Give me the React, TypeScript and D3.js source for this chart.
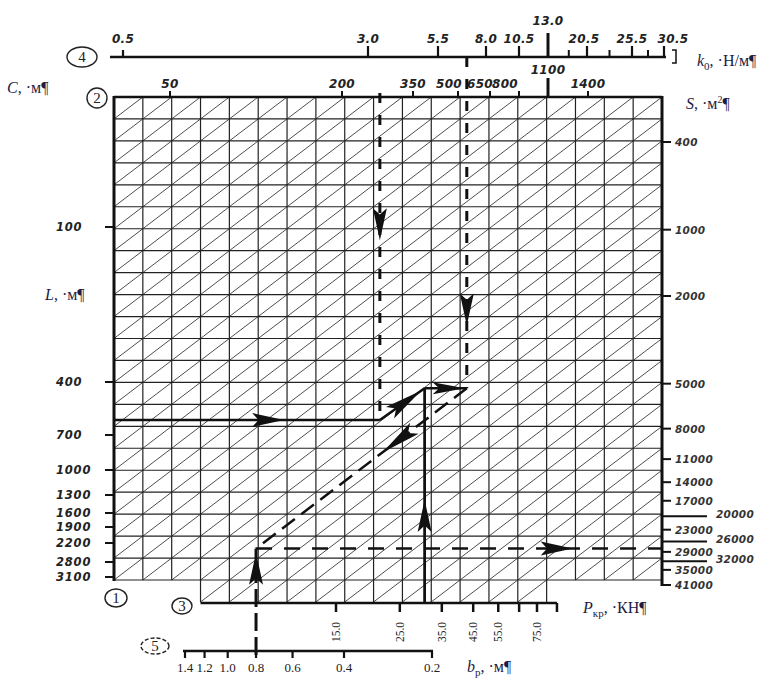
import React from "react";
import * as d3 from "d3";

// шкалы номограммы (подписи делений)
const kTicks = [0.5, 3.0, 5.5, 8.0, 10.5, 13.0, 20.5, 25.5, 30.5];
const kMinor = [17.0, 23.0, 28.0];
const cTicks = [50, 200, 350, 500, 650, 800, 1100, 1400];
const lTicks = [100, 400, 700, 1000, 1300, 1600, 1900, 2200, 2800, 3100];
const sTicks = [400, 1000, 2000, 5000, 8000, 11000, 14000, 17000, 23000, 29000, 35000, 41000];
const sLong = [20000, 26000, 32000];
const pTicks = [15, 25, 35, 45, 55, 75];
const pMinor = [65, 88];
const bTicks = [1.4, 1.2, 1.0, 0.8, 0.6, 0.4, 0.2];

// ключ решения (значения, через которые идут линии)
const keyL = 615;
const keyC = 280;
const keyK = 7.0;
const keyP = 30.5;
const keyS1 = 5250;
const keyS2 = 28000;
const keyB = 0.8;

const W = 778;
const H = 683;
const NCOL = 19;
const NROW = 22;

const col = d3.scaleLinear().domain([0, NCOL]).range([114, 662]);
const row = d3.scaleLinear().domain([0, NROW]).range([97, 580]);
const kX = d3.scaleLinear().domain(kTicks).range([123, 368, 438, 486, 519, 548, 587, 632, 664]);
const cX = d3.scaleLinear().domain(cTicks).range([170, 342, 413, 458, 490, 519, 548, 588]);
const lY = d3.scaleLinear().domain(lTicks).range([227, 382, 435, 470, 495, 513, 527, 543, 562, 577]);
const sY = d3.scaleLog().domain([400, 41000]).range([142, 585]);
const pX = d3.scaleLog().domain([15, 75]).range([336, 537]);
const bX = d3.scaleLog().domain([1.4, 0.2]).range([185, 432]);

const K_AXIS_Y = 57;
const P_AXIS_Y = 603;
const B_AXIS_Y = 651;

const tickFont = "'DejaVu Sans', sans-serif";
const serif = "'Liberation Serif', 'Times New Roman', serif";
const ink = "#111";
const navy = "#1c1c44";

// подписи, сдвинутые из-за тесноты (как в оригинале)
const cShift = (v: number) => (v === 500 ? -9 : v === 650 ? -10 : v === 800 ? -14 : 0);
const kShift = (v: number) => (v === 30.5 ? 9 : v === 20.5 ? -3 : 0);

type Pt = [number, number];

function Arrow({ a, b, t, len = 32, w = 7 }: { a: Pt; b: Pt; t: number; len?: number; w?: number }) {
  const dx = b[0] - a[0];
  const dy = b[1] - a[1];
  const d = Math.hypot(dx, dy);
  const ux = dx / d;
  const uy = dy / d;
  const tip: Pt = [a[0] + dx * t, a[1] + dy * t];
  const bx = tip[0] - ux * len;
  const by = tip[1] - uy * len;
  const pts = [
    tip,
    [bx - uy * w, by + ux * w],
    [tip[0] - ux * len * 0.8, tip[1] - uy * len * 0.8],
    [bx + uy * w, by - ux * w],
  ];
  return <polygon points={pts.map((p) => p.join(",")).join(" ")} fill={ink} />;
}

function Ring({ x, y, rx, ry, n, dashed = false }: { x: number; y: number; rx: number; ry: number; n: string; dashed?: boolean }) {
  return (
    <g>
      <ellipse cx={x} cy={y} rx={rx} ry={ry} fill="none" stroke="#222" strokeWidth={1.4}
        strokeDasharray={dashed ? "4 2" : undefined} />
      <text x={x} y={y + 5} textAnchor="middle" fontFamily={serif} fontSize={15} fill="#222">{n}</text>
    </g>
  );
}

export default function App() {
  const f1 = d3.format(".1f");

  // сетка
  const vLines = d3.range(0, NCOL + 1).map((i) => {
    const ext = i >= 3 && i <= 15;
    return <line key={"v" + i} x1={col(i)} x2={col(i)} y1={row(0)} y2={ext ? row(23) : row(NROW)} stroke="#222" strokeWidth={1.2} />;
  });
  const hLines = d3.range(1, NROW + 1).map((j) => (
    <line key={"h" + j} x1={col(0)} x2={col(NCOL)} y1={row(j)} y2={row(j)} stroke="#222" strokeWidth={1.2} />
  ));
  const diag: JSX.Element[] = [];
  for (let i = 0; i < NCOL; i++) {
    for (let j = 0; j < NROW; j++) {
      diag.push(<line key={`d${i}-${j}`} x1={col(i)} y1={row(j + 1)} x2={col(i + 1)} y2={row(j)} stroke="#3a3a3a" strokeWidth={0.9} />);
    }
  }
  for (let i = 3; i < 15; i++) {
    diag.push(<line key={`e${i}`} x1={col(i)} y1={row(23)} x2={col(i + 1)} y2={row(22)} stroke="#3a3a3a" strokeWidth={0.9} />);
  }

  // точки пути решения
  const A: Pt = [col(0), lY(keyL)];
  const B: Pt = [cX(keyC), lY(keyL)];
  const Cp: Pt = [pX(keyP), sY(keyS1)];
  const D: Pt = [kX(keyK), sY(keyS1)];
  const E: Pt = [bX(keyB), sY(keyS2)];
  const F: Pt = [col(NCOL), sY(keyS2)];
  const cTop: Pt = [cX(keyC), row(0) - 4];
  const kTop: Pt = [kX(keyK), K_AXIS_Y];
  const pBot: Pt = [pX(keyP), P_AXIS_Y];
  const bBot: Pt = [bX(keyB), B_AXIS_Y + 4];

  const seg = (a: Pt, b: Pt, w: number, dash?: string, key?: string) => (
    <line key={key} x1={a[0]} y1={a[1]} x2={b[0]} y2={b[1]} stroke={ink} strokeWidth={w} strokeDasharray={dash} />
  );

  return (
    <svg width={W} height={H} style={{ position: "absolute", left: 0, top: 0, background: "#fff" }}>
      <rect width={W} height={H} fill="#fff" />

      {/* поле сетки */}
      <g>{diag}</g>
      <g>{hLines}</g>
      <g>{vLines}</g>
      <line x1={col(0)} x2={col(NCOL)} y1={row(0)} y2={row(0)} stroke={ink} strokeWidth={2.5} />
      <line x1={col(0)} x2={col(0)} y1={row(0) - 1} y2={row(NROW) + 1} stroke={ink} strokeWidth={3} />
      <line x1={col(NCOL)} x2={col(NCOL)} y1={row(0) - 1} y2={sY(41000) + 1} stroke={ink} strokeWidth={3} />

      {/* шкала 4: k0 */}
      <line x1={110} x2={kX(30.5) + 2} y1={K_AXIS_Y} y2={K_AXIS_Y} stroke={ink} strokeWidth={2.5} />
      {kTicks.map((v) => (
        <g key={"k" + v}>
          <line x1={kX(v)} x2={kX(v)} y1={K_AXIS_Y} y2={K_AXIS_Y - (v === 13 ? 24 : v === 0.5 ? 7 : 11)} stroke={ink} strokeWidth={v === 13 ? 3 : 2.2} />
          <text x={kX(v) + kShift(v)} y={v === 13 ? 25 : 43} textAnchor="middle" fontFamily={tickFont} fontWeight="bold"
            fontStyle="italic" fontSize={12} letterSpacing={0.3} fill="#222">{f1(v)}</text>
        </g>
      ))}
      {kMinor.map((v) => (
        <line key={"km" + v} x1={kX(v)} x2={kX(v)} y1={K_AXIS_Y} y2={K_AXIS_Y - 7} stroke={ink} strokeWidth={2} />
      ))}
      <path d={`M${kX(30.5) + 8},50 H${kX(30.5) + 12} V63 H${kX(30.5) + 8}`} fill="none" stroke={ink} strokeWidth={1.5} />
      <Ring x={82} y={K_AXIS_Y} rx={15} ry={10} n="4" />
      <text x={697} y={66} fontFamily={serif} fontSize={16} fill={navy}>
        <tspan fontStyle="italic">k</tspan>
        <tspan fontSize={11} dy={4}>0</tspan>
        <tspan dy={-4}>, ·Н/м¶</tspan>
      </text>

      {/* шкала 2: C (верх) */}
      {cTicks.map((v) => (
        <g key={"c" + v}>
          <line x1={cX(v)} x2={cX(v)} y1={row(0)} y2={row(0) - (v === 1100 ? 19 : 6)} stroke={ink} strokeWidth={v === 1100 ? 3 : 2} />
          <text x={cX(v) + cShift(v)} y={v === 1100 ? 74 : 88} textAnchor="middle" fontFamily={tickFont} fontWeight="bold"
            fontStyle="italic" fontSize={12} letterSpacing={0.3} fill="#222">{v}</text>
        </g>
      ))}
      <Ring x={97} y={98} rx={10} ry={10} n="2" />
      <text x={7} y={93} fontFamily={serif} fontSize={16} fill={navy}>
        <tspan fontStyle="italic">C</tspan>, ·м¶
      </text>

      {/* шкала 1: L (слева) */}
      {lTicks.map((v) => (
        <g key={"l" + v}>
          <line x1={col(0)} x2={col(0) - 9} y1={lY(v)} y2={lY(v)} stroke={ink} strokeWidth={2} />
          <text x={56} y={lY(v) + 4} fontFamily={tickFont} fontWeight="bold" fontStyle="italic" fontSize={11.5}
            letterSpacing={0.8} fill="#222">{v}</text>
        </g>
      ))}
      <text x={45} y={300} fontFamily={serif} fontSize={16} fill={navy}>
        <tspan fontStyle="italic">L</tspan>, ·м¶
      </text>
      <Ring x={116} y={598} rx={11} ry={9} n="1" />

      {/* шкала S (справа) */}
      {sTicks.map((v) => (
        <g key={"s" + v}>
          <line x1={col(NCOL)} x2={col(NCOL) + 9} y1={sY(v)} y2={sY(v)} stroke={ink} strokeWidth={2} />
          <text x={675} y={sY(v) + 4} fontFamily={tickFont} fontWeight="bold" fontStyle="italic" fontSize={10.5}
            letterSpacing={0.3} fill="#333">{v}</text>
        </g>
      ))}
      {sLong.map((v) => (
        <g key={"sl" + v}>
          <line x1={col(NCOL)} x2={707} y1={sY(v)} y2={sY(v)} stroke={ink} strokeWidth={2} />
          <text x={716} y={sY(v) + 2} fontFamily={tickFont} fontWeight="bold" fontStyle="italic" fontSize={10.5}
            letterSpacing={0.3} fill="#333">{v}</text>
        </g>
      ))}
      <text x={686} y={109} fontFamily={serif} fontSize={16} fill={navy}>
        <tspan fontStyle="italic">S</tspan>, ·м<tspan fontSize={10} dy={-6}>2</tspan><tspan dy={6}>¶</tspan>
      </text>

      {/* шкала 3: P */}
      <line x1={col(3)} x2={pX(88)} y1={P_AXIS_Y} y2={P_AXIS_Y} stroke={ink} strokeWidth={2.5} />
      {[...pTicks, ...pMinor].map((v) => (
        <line key={"p" + v} x1={pX(v)} x2={pX(v)} y1={P_AXIS_Y} y2={P_AXIS_Y + 9} stroke={ink} strokeWidth={2.5} />
      ))}
      {pTicks.map((v) => (
        <text key={"pt" + v} transform={`translate(${pX(v) + 4},632) rotate(-90)`} textAnchor="middle"
          fontFamily={serif} fontSize={11.5} fill="#222">{f1(v)}</text>
      ))}
      <Ring x={182} y={606} rx={10} ry={8} n="3" />
      <text x={583} y={613} fontFamily={serif} fontSize={16} fill={navy}>
        <tspan fontStyle="italic">P</tspan>
        <tspan fontSize={11} dy={4}>кр</tspan>
        <tspan dy={-4}>, ·КН¶</tspan>
      </text>

      {/* шкала 5: bp */}
      <line x1={183} x2={433} y1={B_AXIS_Y} y2={B_AXIS_Y} stroke={ink} strokeWidth={2.5} />
      {bTicks.map((v) => (
        <g key={"b" + v}>
          <line x1={bX(v)} x2={bX(v)} y1={B_AXIS_Y} y2={B_AXIS_Y + 7} stroke={ink} strokeWidth={2.2} />
          <text x={bX(v)} y={672} textAnchor="middle" fontFamily={serif} fontSize={13} fill="#222">{f1(v)}</text>
        </g>
      ))}
      <Ring x={155} y={646} rx={14} ry={8} n="5" dashed />
      <text x={467} y={672} fontFamily={serif} fontSize={16} fill={navy}>
        <tspan fontStyle="italic">b</tspan>
        <tspan fontSize={11} dy={4}>р</tspan>
        <tspan dy={-4}>, ·м¶</tspan>
      </text>

      {/* линии ключа */}
      {seg(A, B, 2.5, undefined, "ab")}
      {seg(B, Cp, 2.5, undefined, "bc")}
      {seg(Cp, D, 2.5, undefined, "cd")}
      {seg(cTop, B, 3, "10 12", "ct")}
      {seg(kTop, D, 3, "10 12", "kt")}
      {seg(pBot, Cp, 2.8, undefined, "pb")}
      {seg(D, E, 2.5, "16 8", "de")}
      {seg(bBot, E, 3, "18 6", "bb")}
      {seg(E, F, 2.5, "16 12", "ef")}

      <Arrow a={A} b={B} t={0.64} />
      <Arrow a={B} b={Cp} t={0.92} len={38} w={7} />
      <Arrow a={Cp} b={D} t={0.95} len={32} w={6} />
      <Arrow a={cTop} b={B} t={0.45} />
      <Arrow a={kTop} b={D} t={0.81} />
      <Arrow a={pBot} b={Cp} t={0.48} />
      <Arrow a={D} b={E} t={0.4} len={40} w={7} />
      <Arrow a={bBot} b={E} t={0.96} />
      <Arrow a={E} b={F} t={0.78} />
    </svg>
  );
}
